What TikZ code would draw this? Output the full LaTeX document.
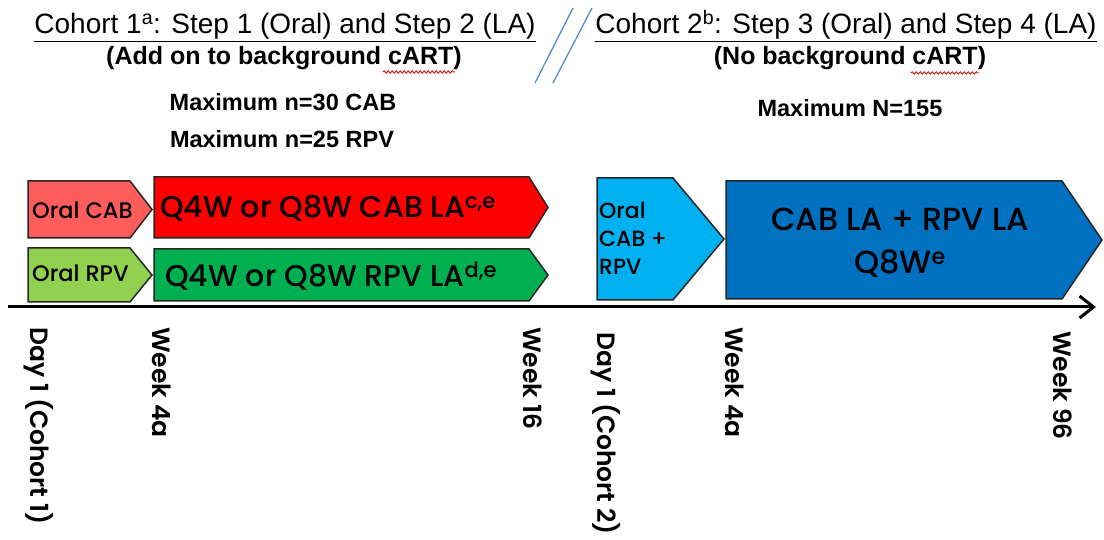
\documentclass[tikz,border=0pt]{standalone}
\usepackage{fontspec}
\setmainfont{Liberation Sans}
\newfontfamily\gothicmed{Poppins Medium}
\newfontfamily\gothicsemi{Poppins SemiBold}
\usetikzlibrary{arrows.meta,decorations.pathmorphing}

\definecolor{oralcab}{RGB}{255,92,92}
\definecolor{labred}{RGB}{255,0,0}
\definecolor{oralrpv}{RGB}{146,208,80}
\definecolor{labgreen}{RGB}{0,176,80}
\definecolor{orallight}{RGB}{0,176,240}
\definecolor{labblue}{RGB}{0,112,192}
\definecolor{slashblue}{RGB}{90,135,215}

\begin{document}
\begin{tikzpicture}[x=1pt, y=-1pt,
    phase/.style={draw=black!85, line width=1.5pt},
    boxtext/.style={font=\gothicmed\fontsize{#1}{#1}\selectfont, inner sep=0pt},
    heading/.style={font=\fontsize{28}{30}\selectfont, inner sep=0pt, anchor=base},
    subheading/.style={font=\bfseries\fontsize{#1}{#1}\selectfont, inner sep=0pt, anchor=base},
    weeklabel/.style={font=\gothicsemi\fontsize{25}{25}\selectfont, inner sep=0pt,
      rotate=-90, anchor=west},
    squiggle/.style={red!85!black, line width=.8pt,
      decorate, decoration={snake, amplitude=1.2pt, segment length=4pt}}]

  \useasboundingbox (0,0) rectangle (1104,540);

  \pgfmathsetmacro{\axisY}{307}

  \node[heading] (title1) at (285,34)
    {\underline{Cohort 1\textsuperscript{a}: Step 1 (Oral) and Step 2 (LA)}};
  \node[subheading=25] (bg1) at (284,65) {(Add on to background cART)};
  \node[subheading=23.5] (max1) at (283,111) {Maximum n=30 CAB};
  \node[subheading=23.5] (max2) at (282,148) {Maximum n=25 RPV};

  \node[heading] (title2) at (846,34)
    {\underline{Cohort 2\textsuperscript{b}: Step 3 (Oral) and Step 4 (LA)}};
  \node[subheading=25] (bg2) at (850,65) {(No background cART)};
  \node[subheading=23.5] (max3) at (850,117) {Maximum N=155};

  \draw[squiggle] (383,72) -- (455,72);
  \draw[squiggle] (911,73) -- (979,73);

  \draw[slashblue, line width=1.3pt] (535,83) -- (573,8);
  \draw[slashblue, line width=1.3pt] (553,83) -- (592,8);

  \filldraw[phase, fill=oralcab] (28,181) -- (130,181) -- (152,209.5) -- (130,238) -- (28,238) -- cycle;
  \filldraw[phase, fill=oralrpv] (28,248) -- (130,248) -- (152,275) -- (130,302) -- (28,302) -- cycle;
  \filldraw[phase, fill=labred] (154,177) -- (529,177) -- (548,207.5) -- (529,238) -- (154,238) -- cycle;
  \filldraw[phase, fill=labgreen] (154,249) -- (529,249) -- (548,275) -- (529,301) -- (154,301) -- cycle;
  \filldraw[phase, fill=orallight] (597,178) -- (673,178) -- (724,239) -- (673,300) -- (597,300) -- cycle;
  \filldraw[phase, fill=labblue] (726,181) -- (1062,181) -- (1102,240) -- (1062,299) -- (726,299) -- cycle;

  \node[boxtext=22.5, anchor=west] (oralcab) at (32,210) {Oral CAB};
  \node[boxtext=22.5, anchor=west] (oralrpv) at (32,273) {Oral RPV};
  \node[boxtext=30, anchor=west] (cabla) at (160,208) {Q4W or Q8W CAB LA\textsuperscript{c,e}};
  \node[boxtext=30, anchor=west] (rpvla) at (165,276) {Q4W or Q8W RPV LA\textsuperscript{d,e}};
  \node[font=\gothicmed\fontsize{22}{28}\selectfont, inner sep=0pt, align=left, anchor=west]
    (oralboth) at (599,238) {Oral\\CAB +\\RPV};
  \node[font=\gothicmed\fontsize{32}{43}\selectfont, inner sep=0pt, align=center]
    (combo) at (900,243) {CAB LA + RPV LA\\Q8W\textsuperscript{e}};

  \coordinate (axisL) at (8,\axisY);
  \coordinate (axisR) at (1096,\axisY);
  \draw[line width=3pt, -{Straight Barb[length=14pt, width=22pt]}] (axisL) -- (axisR);

  \node[weeklabel] (day1a) at (39,327) {Day 1 (Cohort 1)};
  \node[weeklabel] (week4a) at (162,327) {Week 4a};
  \node[weeklabel] (week16) at (533,327) {Week 16};
  \node[weeklabel] (day1b) at (606,332) {Day 1 (Cohort 2)};
  \node[weeklabel] (week4b) at (735,327) {Week 4a};
  \node[weeklabel] (week96) at (1063,331) {Week 96};

\end{tikzpicture}
\end{document}
